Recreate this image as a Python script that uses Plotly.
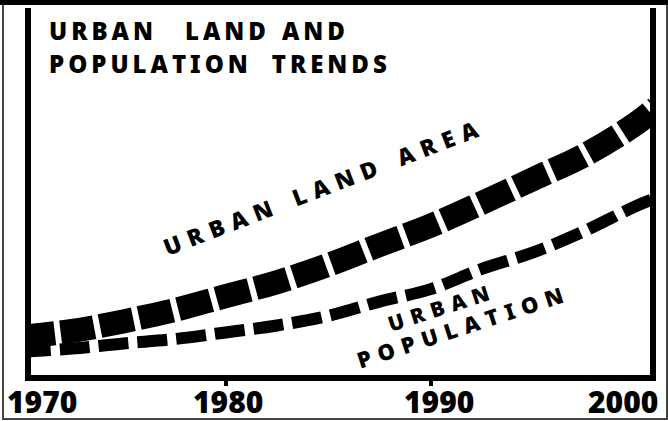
import plotly.graph_objects as go

# Trend data (index values, arbitrary units, no y scale shown)
years = [1970, 1972.5, 1975, 1977.5, 1980, 1982.5, 1985, 1987.5,
         1990, 1992.5, 1995, 1997.5, 2000, 2001]
urban_land_area = [10.4, 12.0, 14.6, 17.7, 21.5, 25.3, 30.0, 35.4,
                   40.7, 46.9, 53.4, 59.9, 68.4, 72.8]
urban_population = [6.3, 7.2, 8.6, 9.8, 11.6, 13.5, 16.1, 20.0,
                    23.4, 28.9, 33.4, 39.2, 46.0, 48.2]

tick_years = [1970, 1980, 1990, 2000]
tick_labels = ["1970", "1980", "1990", "2000"]

X_RANGE = [1970.5, 2000.7]

TS = "\u2009"   # thin space used for letter spacing
MS = "\u2004"   # three-per-em space
EN = "\u2002"
EM = "\u2003"   # word gap


def spaced(word, sep):
    return sep.join(word)


LETTER_FONT = dict(family="Noto Sans", size=24, color="black", weight=900)
DIGIT_FONT = dict(family="Noto Sans", size=30, color="black", weight=900)

fig = go.Figure()

fig.add_trace(go.Scatter(
    x=years, y=urban_land_area, mode="lines", name="Urban land area",
    line=dict(color="black", width=24, dash="34px,6px", shape="spline"),
    hoverinfo="skip", showlegend=False,
))
fig.add_trace(go.Scatter(
    x=years, y=urban_population, mode="lines", name="Urban population",
    line=dict(color="black", width=12, dash="30px,9px", shape="spline"),
    hoverinfo="skip", showlegend=False,
))

annotations = [
    # title, two lines
    dict(text=spaced("URBAN", TS) + EM + MS + spaced("LAND", TS) + EN + TS + spaced("AND", TS),
         xref="paper", yref="paper", x=0.026, y=0.94,
         xanchor="left", yanchor="middle", showarrow=False, font=LETTER_FONT),
    dict(text=spaced("POPULATION", TS) + EM + spaced("TRENDS", TS),
         xref="paper", yref="paper", x=0.026, y=0.848,
         xanchor="left", yanchor="middle", showarrow=False, font=LETTER_FONT),
    # series labels along the curves
    dict(text=spaced("URBAN", MS) + EM + spaced("LAND", MS) + EM + spaced("AREA", MS),
         xref="x", yref="y", x=1984.6, y=51.0, textangle=-21,
         showarrow=False, font=dict(LETTER_FONT, size=23)),
    dict(text=spaced("URBAN", MS),
         xref="x", yref="y", x=1990.4, y=18.3, textangle=-18,
         showarrow=False, font=dict(LETTER_FONT, size=21)),
    dict(text=spaced("POPULATION", MS),
         xref="x", yref="y", x=1991.4, y=13.2, textangle=-18,
         showarrow=False, font=dict(LETTER_FONT, size=22)),
]

# year labels under the axis; the end labels sit flush with the frame corners
label_anchor = ["left", "center", "center", "right"]
label_shift = [-26, 2, 8, 24]
for yr, txt, anc, dx in zip(tick_years, tick_labels, label_anchor, label_shift):
    annotations.append(dict(
        text=txt, xref="x", yref="paper",
        x=min(max(yr, X_RANGE[0]), X_RANGE[1]), y=-0.071, xshift=dx,
        xanchor=anc, yanchor="middle", showarrow=False, font=DIGIT_FONT,
    ))

fig.update_layout(
    width=668, height=421,
    margin=dict(l=31, r=18, t=8, b=46, autoexpand=False),
    paper_bgcolor="white", plot_bgcolor="white",
    annotations=annotations,
    xaxis=dict(
        range=X_RANGE, automargin=False,
        showline=True, linewidth=6, linecolor="black", mirror=False,
        showgrid=False, zeroline=False,
        tickmode="array", tickvals=tick_years[1:-1], showticklabels=False,
        ticks="outside", ticklen=5, tickwidth=4, tickcolor="black",
        fixedrange=True,
    ),
    yaxis=dict(
        range=[0, 100], automargin=False,
        showline=True, linewidth=6, linecolor="black", mirror=True,
        showgrid=False, zeroline=False, showticklabels=False, ticks="",
        fixedrange=True,
    ),
    shapes=[
        # outer frame of the panel
        dict(type="rect", xref="paper", yref="paper",
             x0=-28 / 619, x1=636 / 619, y0=-44 / 367, y1=375 / 367,
             line=dict(color="#444", width=2), layer="below"),
        # heavy rule along the top edge
        dict(type="rect", xref="paper", yref="paper",
             x0=-31 / 619, x1=637 / 619, y0=370 / 367, y1=376 / 367,
             fillcolor="black", line=dict(width=0)),
    ],
)

fig.write_html("out.html")
